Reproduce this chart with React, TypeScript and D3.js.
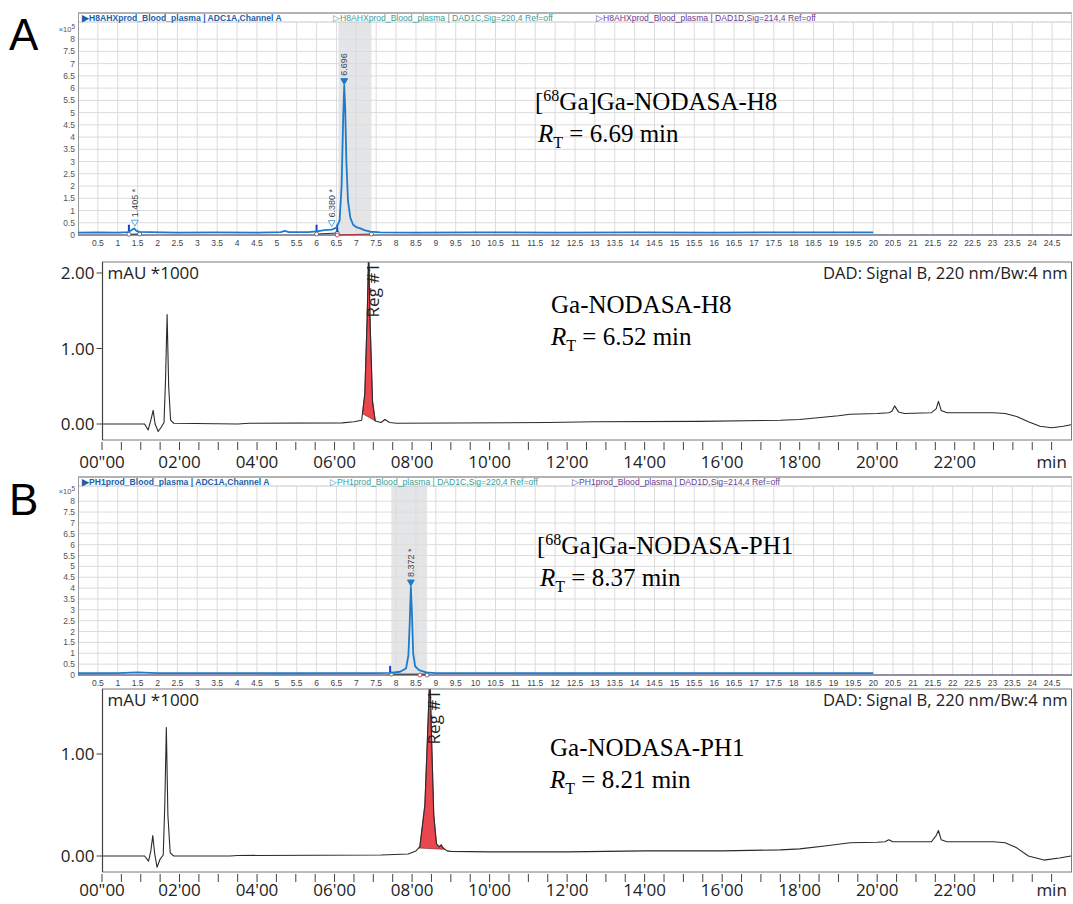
import React from "react";
import * as d3 from "d3";

type Pt = [number, number];

const W = 1073;
const H = 904;

// ---- ticks ----
const RADIO_X_TICKS = [0.5, 1, 1.5, 2, 2.5, 3, 3.5, 4, 4.5, 5, 5.5, 6, 6.5, 7, 7.5, 8, 8.5, 9, 9.5, 10, 10.5, 11, 11.5, 12, 12.5, 13, 13.5, 14, 14.5, 15, 15.5, 16, 16.5, 17, 17.5, 18, 18.5, 19, 19.5, 20, 20.5, 21, 21.5, 22, 22.5, 23, 23.5, 24, 24.5];
const RADIO_Y_TICKS = [0, 0.5, 1, 1.5, 2, 2.5, 3, 3.5, 4, 4.5, 5, 5.5, 6, 6.5, 7, 7.5, 8];
const UV_X_TICKS = [0, 0.5, 1, 1.5, 2, 2.5, 3, 3.5, 4, 4.5, 5, 5.5, 6, 6.5, 7, 7.5, 8, 8.5, 9, 9.5, 10, 10.5, 11, 11.5, 12, 12.5, 13, 13.5, 14, 14.5, 15, 15.5, 16, 16.5, 17, 17.5, 18, 18.5, 19, 19.5, 20, 20.5, 21, 21.5, 22, 22.5, 23, 23.5, 24, 24.5];
const UV_LABEL_TIMES = [0, 2, 4, 6, 8, 10, 12, 14, 16, 18, 20, 22, 24.5];
const UV_LABELS = ['00"00', "02'00", "04'00", "06'00", "08'00", "10'00", "12'00", "14'00", "16'00", "18'00", "20'00", "22'00", "min"];

// ---- radio traces (x10^5) ----
const RADIO_A: Pt[] = [
  [0, 0.1], [0.5, 0.11], [1.0, 0.1], [1.25, 0.12], [1.35, 0.2], [1.41, 0.27], [1.47, 0.17], [1.55, 0.13],
  [1.8, 0.12], [2.5, 0.1], [3.5, 0.11], [4.5, 0.1], [5.1, 0.12], [5.2, 0.17], [5.3, 0.12], [5.8, 0.12],
  [6.0, 0.15], [6.2, 0.2], [6.38, 0.22], [6.5, 0.3], [6.58, 0.6], [6.63, 2.0], [6.67, 4.8], [6.696, 6.1],
  [6.72, 5.2], [6.75, 3.0], [6.79, 1.4], [6.85, 0.7], [6.92, 0.42], [7.0, 0.32], [7.1, 0.27], [7.2, 0.2],
  [7.35, 0.14], [7.6, 0.11], [8.5, 0.1], [10, 0.11], [12, 0.1], [14, 0.11], [16, 0.1], [18, 0.11], [20, 0.11],
];
const RADIO_B: Pt[] = [
  [0, 0.08], [1.0, 0.09], [1.5, 0.12], [2.0, 0.09], [5, 0.08], [7.5, 0.09], [7.85, 0.1], [8.1, 0.15],
  [8.25, 0.3], [8.31, 0.9], [8.345, 2.5], [8.372, 4.05], [8.4, 2.8], [8.43, 1.0], [8.48, 0.4], [8.58, 0.22],
  [8.75, 0.12], [9.0, 0.09], [12, 0.08], [16, 0.09], [20, 0.09],
];

// ---- UV traces (mAU *1000) ----
const UV_A: Pt[] = [
  [0, 0], [1.1, 0], [1.19, -0.08], [1.26, 0.05], [1.32, 0.18], [1.37, 0.0], [1.45, -0.1], [1.53, -0.04],
  [1.6, 0.02], [1.64, 0.6], [1.68, 1.45], [1.72, 0.5], [1.77, 0.05], [1.85, 0.01], [3.5, 0.0], [3.8, 0.01],
  [6.2, 0.015], [6.5, 0.03], [6.7, 0.05], [6.78, 0.4], [6.84, 1.4], [6.88, 2.3], [6.92, 1.3], [6.98, 0.3],
  [7.05, 0.04], [7.2, 0.02], [7.3, 0.06], [7.42, 0.02], [7.6, 0.01], [11.5, 0.02], [12.7, 0.03], [15.4, 0.035],
  [17.5, 0.05], [18.0, 0.06], [19.0, 0.11], [19.3, 0.13], [20.0, 0.14], [20.3, 0.15], [20.38, 0.17], [20.45, 0.24],
  [20.55, 0.16], [20.7, 0.14], [21.4, 0.15], [21.52, 0.2], [21.58, 0.3], [21.65, 0.18], [21.8, 0.15], [23.0, 0.15],
  [23.3, 0.14], [23.6, 0.1], [23.9, 0.03], [24.2, -0.03], [24.5, -0.05], [24.8, -0.03], [25, -0.01],
];
const UV_B: Pt[] = [
  [0, 0], [1.1, 0], [1.2, -0.05], [1.26, 0.05], [1.31, 0.2], [1.36, 0.02], [1.42, -0.11], [1.5, -0.03],
  [1.58, 0.01], [1.62, 0.5], [1.66, 1.26], [1.7, 0.4], [1.76, 0.03], [1.85, 0.0], [3.3, 0.0], [3.5, 0.005],
  [7.2, 0.01], [7.9, 0.02], [8.1, 0.05], [8.2, 0.09], [8.33, 0.5], [8.4, 1.2], [8.46, 1.8], [8.5, 1.2],
  [8.56, 0.4], [8.63, 0.12], [8.7, 0.09], [8.75, 0.11], [8.8, 0.08], [8.9, 0.05], [9.0, 0.045], [10, 0.04],
  [12, 0.04], [14, 0.05], [16, 0.05], [17.5, 0.06], [18, 0.07], [18.7, 0.1], [19.3, 0.13], [20.0, 0.135],
  [20.2, 0.14], [20.3, 0.16], [20.4, 0.14], [21.4, 0.14], [21.52, 0.2], [21.58, 0.25], [21.65, 0.16], [21.8, 0.14],
  [23.0, 0.14], [23.3, 0.13], [23.6, 0.08], [23.9, 0.0], [24.3, -0.04], [24.7, -0.02], [25, 0.0],
];

// ---- peak annotations ----
const PEAKS_A = [
  { t: 1.43, label: "1.405 *", filled: false },
  { t: 6.38, label: "6.380 *", filled: false },
  { t: 6.696, label: "6.696", filled: true },
];
const PEAKS_B = [{ t: 8.372, label: "8.372 *", filled: true }];
const BASE_A: Pt[][] = [[[1.28, 0.03], [1.55, 0.04]], [[6.0, 0.04], [6.52, 0.08]]];
const RED_BASE_A: Pt[][] = [[[6.52, 0.0], [7.38, 0.04]]];
const BASE_B: Pt[][] = [[[7.88, 0.04], [8.78, 0.04]]];
const RED_BASE_B: Pt[][] = [[[8.6, 0.0], [8.78, 0.0]]];
const MARKS_A = [1.28, 6.0, 6.52];
const MARKS_B = [7.85];

const SANS = "Liberation Sans, Arial, sans-serif";
const UVFONT = "Open Sans, Noto Sans, sans-serif";
const SERIF = "Liberation Serif, Times New Roman, serif";

function interp(data: Pt[], t: number) {
  const i = d3.bisector((d: Pt) => d[0]).left(data, t);
  if (i <= 0) return data[0][1];
  if (i >= data.length) return data[data.length - 1][1];
  const [t0, v0] = data[i - 1];
  const [t1, v1] = data[i];
  return v0 + ((v1 - v0) * (t - t0)) / (t1 - t0);
}

interface RadioProps {
  top: number;
  bottom: number;
  headers: { text: string; x: number; color: string; bold?: boolean }[];
  trace: Pt[];
  shade: [number, number];
  peaks: { t: number; label: string; filled: boolean }[];
  bases: Pt[][];
  redBases: Pt[][];
  marks: number[];
}

function RadioPanel({ top, bottom, headers, trace, shade, peaks, bases, redBases, marks }: RadioProps) {
  const left = 78;
  const right = 1072;
  const plotTop = top + 9;
  const x = d3.scaleLinear().domain([0, 25]).range([left, right]);
  const y = d3.scaleLinear().domain([0, 8.7]).range([bottom, plotTop]);
  const line = d3.line<Pt>().x((d) => x(d[0])).y((d) => y(d[1]));
  const blue = "#1e7bc8";

  return (
    <g>
      {/* shaded integration window */}
      <rect x={x(shade[0])} y={plotTop} width={x(shade[1]) - x(shade[0])} height={bottom - plotTop} fill="#e4e5e7" />
      {/* grid */}
      {RADIO_X_TICKS.map((t) => (
        <line key={"gx" + t} x1={x(t)} x2={x(t)} y1={plotTop} y2={bottom} stroke="#dcdcdc" strokeWidth={1} />
      ))}
      {RADIO_Y_TICKS.filter((v) => v > 0).map((v) => (
        <line key={"gy" + v} x1={left} x2={right} y1={y(v)} y2={y(v)} stroke="#dcdcdc" strokeWidth={1} />
      ))}
      {/* header band */}
      <rect x={left} y={top} width={right - left} height={plotTop - top} fill="#fff" />
      <line x1={left} x2={right} y1={plotTop} y2={plotTop} stroke="#c8c8c8" />
      <line x1={left} x2={right} y1={top} y2={top} stroke="#9a9a9a" strokeWidth={1.5} />
      {headers.map((h) => (
        <text key={h.text} x={h.x} y={top + 7.5} fontFamily={SANS} fontSize={8.6} fontWeight={h.bold ? "bold" : "normal"} fill={h.color}>
          {h.text}
        </text>
      ))}
      {/* frame */}
      <line x1={left + 0.5} x2={left + 0.5} y1={top} y2={bottom} stroke="#9a9a9a" />
      <line x1={right - 0.5} x2={right - 0.5} y1={top} y2={bottom} stroke="#c8c8c8" />
      <line x1={left} x2={right} y1={bottom} y2={bottom} stroke="#6c6888" strokeWidth={1.5} />

      {/* baselines */}
      {bases.map((b, i) => (
        <g key={"b" + i}>
          <path d={line(b) || ""} stroke="#333" strokeWidth={1} fill="none" />
          {b.map((p, j) => (
            <circle key={j} cx={x(p[0])} cy={y(p[1])} r={2} fill="#fff" stroke="#555" strokeWidth={0.8} />
          ))}
        </g>
      ))}
      {redBases.map((b, i) => (
        <g key={"rb" + i}>
          <path d={line(b) || ""} stroke="#b0303a" strokeWidth={1} fill="none" />
          <circle cx={x(b[0][0])} cy={y(b[0][1])} r={2} fill="#fff" stroke="#b0303a" strokeWidth={0.8} />
          <circle cx={x(b[1][0])} cy={y(b[1][1])} r={2} fill="#fff" stroke="#555" strokeWidth={0.8} />
        </g>
      ))}
      {marks.map((t) => (
        <rect key={"m" + t} x={x(t) - 1} y={y(0.42)} width={2} height={y(0.12) - y(0.42)} fill="#1a3fd0" />
      ))}

      {/* trace */}
      <path d={line(trace) || ""} fill="none" stroke={blue} strokeWidth={1.8} strokeLinejoin="round" />

      {/* peak markers */}
      {peaks.map((p) => {
        const px = x(p.t);
        const py = y(interp(trace, p.t)) - (p.filled ? 1 : 3);
        return (
          <g key={p.label}>
            <path
              d={`M${px - 3.4},${py - 6} L${px + 3.4},${py - 6} L${px},${py} Z`}
              fill={p.filled ? blue : "#fff"}
              stroke={p.filled ? blue : "#5aa6e0"}
              strokeWidth={1}
            />
            <text
              transform={`translate(${px + 3.2},${py - 9}) rotate(-90)`}
              fontFamily={SANS}
              fontSize={9}
              fill="#444"
            >
              {p.label}
            </text>
          </g>
        );
      })}

      {/* y axis labels */}
      {RADIO_Y_TICKS.map((v) => (
        <text key={"yl" + v} x={left - 3} y={y(v) + 3} textAnchor="end" fontFamily={SANS} fontSize={8.5} fill="#555">
          {String(v)}
        </text>
      ))}
      <text x={left - 3} y={y(8) - 7} textAnchor="end" fontFamily={SANS} fontSize={7.5} fill="#555">
        ×10<tspan dy={-3} fontSize={6.5}>5</tspan>
      </text>
      {/* x axis labels */}
      {RADIO_X_TICKS.map((t) => (
        <text key={"xl" + t} x={x(t)} y={bottom + 10.5} textAnchor="middle" fontFamily={SANS} fontSize={8.5} fill="#444">
          {String(t)}
        </text>
      ))}
    </g>
  );
}

interface UvProps {
  id: string;
  top: number;
  bottom: number;
  y0: number;
  y1: number;
  yTicks: number[];
  trace: Pt[];
  red: [number, number];
  regT: number;
  labelDy: number;
}

function UvPanel({ id, top, bottom, y0, y1, yTicks, trace, red, regT, labelDy }: UvProps) {
  const left = 102.5;
  const right = 1071.5;
  const x = d3.scaleLinear().domain([0, 25]).range([102, 1071]);
  const y = d3.scaleLinear().domain([0, 1]).range([y0, y1]);
  const line = d3.line<Pt>().x((d) => x(d[0])).y((d) => y(d[1]));
  const redPts = trace.filter((d) => d[0] >= red[0] && d[0] <= red[1]);
  const va = interp(trace, red[0]);
  const vb = interp(trace, red[1]);
  const redData: Pt[] = [[red[0], va], ...redPts, [red[1], vb]];
  const base = (t: number) => va + ((vb - va) * (t - red[0])) / (red[1] - red[0]);
  const area = d3
    .area<Pt>()
    .x((d) => x(d[0]))
    .y0((d) => y(base(d[0])))
    .y1((d) => y(d[1]));

  return (
    <g>
      <defs>
        <clipPath id={id}>
          <rect x={left} y={top} width={right - left} height={bottom - top} />
        </clipPath>
      </defs>
      <g clipPath={`url(#${id})`}>
        <path d={area(redData) || ""} fill="#e9474d" stroke="#6b1c1c" strokeWidth={0.6} />
        <path d={line(trace) || ""} fill="none" stroke="#2a2a2a" strokeWidth={1.1} strokeLinejoin="round" />
      </g>
      <rect x={left} y={top} width={right - left} height={bottom - top} fill="none" stroke="#7a7a7a" strokeWidth={1} />
      <line x1={left} x2={left} y1={top} y2={bottom} stroke="#444" strokeWidth={1.2} />
      {/* y axis */}
      {yTicks.map((v) => (
        <g key={"yt" + v}>
          <line x1={left - 6} x2={left} y1={y(v)} y2={y(v)} stroke="#444" />
          <text x={left - 8} y={y(v) + 6} textAnchor="end" fontFamily={UVFONT} fontSize={17} fill="#222">
            {v.toFixed(2)}
          </text>
        </g>
      ))}
      {/* x axis */}
      {UV_X_TICKS.map((t) => (
        <line key={"xt" + t} x1={x(t)} x2={x(t)} y1={bottom + 2} y2={bottom + 10} stroke="#444" />
      ))}
      {UV_LABEL_TIMES.map((t, i) => (
        <text key={"xl" + t} x={x(t)} y={bottom + labelDy} textAnchor="middle" fontFamily={UVFONT} fontSize={17} fill="#222">
          {UV_LABELS[i]}
        </text>
      ))}
      <text x={left + 5} y={top + 17} fontFamily={UVFONT} fontSize={17} fill="#222">
        mAU *1000
      </text>
      <text x={right - 4} y={top + 17} textAnchor="end" fontFamily={UVFONT} fontSize={16.6} fill="#222">
        DAD: Signal B, 220 nm/Bw:4 nm
      </text>
      <text transform={`translate(${x(regT) + 10},${top + 1}) rotate(-90)`} textAnchor="end" fontFamily={UVFONT} fontSize={17} fill="#222">
        Reg #1
      </text>
    </g>
  );
}

function Label({ x, y, name, rt, iso }: { x: number; y: number; name: string; rt: string; iso: boolean }) {
  return (
    <g fontFamily={SERIF} fontSize={25} fill="#000">
      <text x={x} y={y}>
        {iso ? (
          <>
            [<tspan dy={-9} fontSize={16}>68</tspan>
            <tspan dy={9}>Ga]{name}</tspan>
          </>
        ) : (
          name
        )}
      </text>
      <text x={x + (iso ? 3 : 0)} y={y + 32}>
        <tspan fontStyle="italic">R</tspan>
        <tspan dy={6} fontSize={16}>T</tspan>
        <tspan dy={-6}>{` = ${rt} min`}</tspan>
      </text>
    </g>
  );
}

export default function App() {
  return (
    <div style={{ position: "absolute", left: 0, top: 0 }}>
      <svg width={W} height={H} style={{ display: "block", background: "#fff" }}>
        <rect width={W} height={H} fill="#fff" />
        <text x={9} y={50} fontFamily={SANS} fontSize={44} fill="#000">A</text>
        <text x={9} y={515} fontFamily={SANS} fontSize={44} fill="#000">B</text>

        <RadioPanel
          top={13}
          bottom={235}
          headers={[
            { text: "▶H8AHXprod_Blood_plasma | ADC1A,Channel A", x: 82, color: "#1d5fa8", bold: true },
            { text: "▷H8AHXprod_Blood_plasma | DAD1C,Sig=220,4  Ref=off", x: 333, color: "#3a9e9a" },
            { text: "▷H8AHXprod_Blood_plasma | DAD1D,Sig=214,4  Ref=off", x: 596, color: "#6a3d8f" },
          ]}
          trace={RADIO_A}
          shade={[6.55, 7.38]}
          peaks={PEAKS_A}
          bases={BASE_A}
          redBases={RED_BASE_A}
          marks={MARKS_A}
        />
        <UvPanel id="ua" top={262} bottom={440} y0={424} y1={348.5} yTicks={[0, 1, 2]} trace={UV_A} red={[6.72, 7.05]} regT={6.88} labelDy={28} />

        <RadioPanel
          top={477}
          bottom={675}
          headers={[
            { text: "▶PH1prod_Blood_plasma | ADC1A,Channel A", x: 82, color: "#1d5fa8", bold: true },
            { text: "▷PH1prod_Blood_plasma | DAD1C,Sig=220,4  Ref=off", x: 330, color: "#3a9e9a" },
            { text: "▷PH1prod_Blood_plasma | DAD1D,Sig=214,4  Ref=off", x: 572, color: "#6a3d8f" },
          ]}
          trace={RADIO_B}
          shade={[7.88, 8.78]}
          peaks={PEAKS_B}
          bases={BASE_B}
          redBases={RED_BASE_B}
          marks={MARKS_B}
        />
        <UvPanel id="ub" top={689} bottom={872} y0={856} y1={754} yTicks={[0, 1]} trace={UV_B} red={[8.17, 8.85]} regT={8.46} labelDy={24} />

        <Label x={535} y={110} name="Ga-NODASA-H8" rt="6.69" iso />
        <Label x={551} y={313} name="Ga-NODASA-H8" rt="6.52" iso={false} />
        <Label x={537} y={554} name="Ga-NODASA-PH1" rt="8.37" iso />
        <Label x={550} y={756} name="Ga-NODASA-PH1" rt="8.21" iso={false} />
      </svg>
    </div>
  );
}
